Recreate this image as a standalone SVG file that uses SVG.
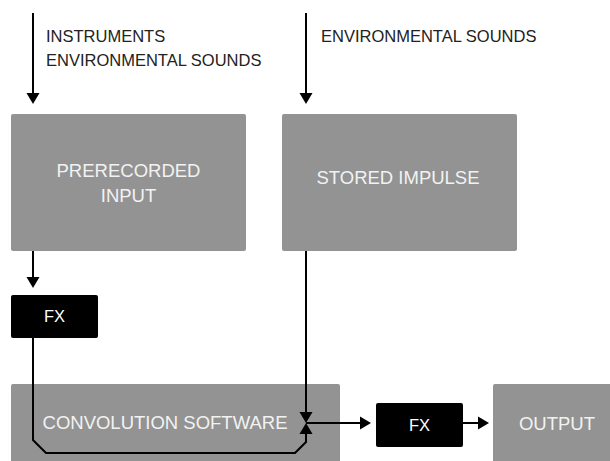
<svg xmlns="http://www.w3.org/2000/svg" width="610" height="461" viewBox="0 0 610 461">
<style>
.box{fill:#939393}
.fx{fill:#000}
.lbl{font-family:"Liberation Sans",Arial,sans-serif;font-size:16.5px;fill:#222}
.in{font-family:"Liberation Sans",Arial,sans-serif;font-size:18.5px;fill:#f2f2f2;text-anchor:middle}
.fxt{font-family:"Liberation Sans",Arial,sans-serif;font-size:16.5px;fill:#fff;text-anchor:middle}
.ln{fill:none;stroke:#000;stroke-width:2}
.hd{fill:#000}
</style>
<defs>
<path id="down" d="M-6.5,-11 L6.5,-11 L0,0 Z"/>
<path id="right" d="M-11,-6.5 L-11,6.5 L0,0 Z"/>
<path id="up" d="M-6.5,11 L6.5,11 L0,0 Z"/>
</defs>
<g id="labels">
<text class="lbl" x="46" y="42">INSTRUMENTS</text>
<text class="lbl" x="46" y="66">ENVIRONMENTAL SOUNDS</text>
<text class="lbl" x="321" y="42">ENVIRONMENTAL SOUNDS</text>
</g>
<g id="prerecorded">
<rect class="box" x="11" y="114" width="235" height="137" rx="2"/>
<text class="in" x="128.5" y="177">PRERECORDED</text>
<text class="in" x="128.5" y="202">INPUT</text>
</g>
<g id="stored">
<rect class="box" x="282" y="114" width="235" height="137" rx="2"/>
<text class="in" x="398" y="184">STORED IMPULSE</text>
</g>
<g id="fx1">
<rect class="fx" x="11" y="295" width="87" height="43" rx="2"/>
<text class="fxt" x="54.5" y="322">FX</text>
</g>
<g id="convolution">
<rect class="box" x="11" y="384" width="329" height="90" rx="2"/>
<text class="in" x="165" y="429">CONVOLUTION SOFTWARE</text>
</g>
<g id="fx2">
<rect class="fx" x="376" y="403" width="87" height="44" rx="2"/>
<text class="fxt" x="419.5" y="431">FX</text>
</g>
<g id="output">
<rect class="box" x="493" y="384" width="130" height="90" rx="2"/>
<text class="in" x="557" y="430">OUTPUT</text>
</g>
<g id="connectors">
<line class="ln" x1="33" y1="13" x2="33" y2="96"/>
<use href="#down" class="hd" x="33" y="104"/>
<line class="ln" x1="306" y1="13" x2="306" y2="96"/>
<use href="#down" class="hd" x="306" y="104"/>
<line class="ln" x1="33" y1="251" x2="33" y2="280"/>
<use href="#down" class="hd" x="33" y="288"/>
<line class="ln" x1="306" y1="251" x2="306" y2="415"/>
<use href="#down" class="hd" x="306" y="423"/>
<polyline class="ln" points="33,338 33,440 46,453 295,453 306,442 306,431"/>
<use href="#up" class="hd" x="306" y="423"/>
<line class="ln" x1="306" y1="423" x2="364" y2="423"/>
<use href="#right" class="hd" x="371" y="423"/>
<line class="ln" x1="463" y1="423" x2="482" y2="423"/>
<use href="#right" class="hd" x="489" y="423"/>
</g>
</svg>
